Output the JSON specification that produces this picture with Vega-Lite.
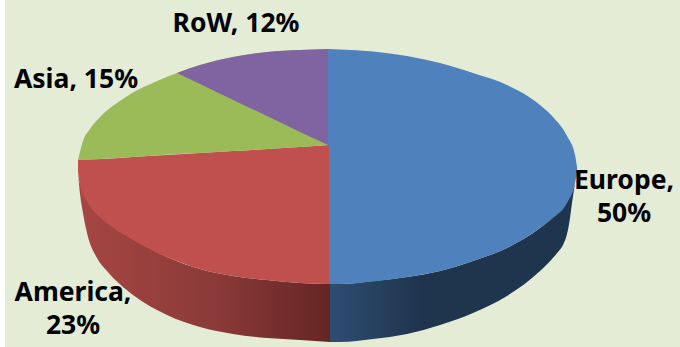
{
  "$schema": "https://vega.github.io/schema/vega-lite/v6.json",
  "width": 675,
  "height": 347,
  "padding": {"left": 5, "top": 0, "right": 0, "bottom": 0},
  "autosize": "none",
  "background": "#ffffff",
  "view": {"fill": "#E4ECD6", "stroke": null},
  "datasets": {
    "rim": [
      {"slice": "America", "x": 78, "top": 172, "bottom": 172},
      {"slice": "America", "x": 79, "top": 180, "bottom": 184},
      {"slice": "America", "x": 83, "top": 190, "bottom": 213},
      {"slice": "America", "x": 87, "top": 198, "bottom": 233},
      {"slice": "America", "x": 97, "top": 212, "bottom": 258},
      {"slice": "America", "x": 107, "top": 222, "bottom": 271},
      {"slice": "America", "x": 133, "top": 239, "bottom": 295},
      {"slice": "America", "x": 167, "top": 257, "bottom": 315},
      {"slice": "America", "x": 200, "top": 269, "bottom": 327},
      {"slice": "America", "x": 233, "top": 276, "bottom": 334},
      {"slice": "America", "x": 267, "top": 280, "bottom": 338},
      {"slice": "America", "x": 300, "top": 283, "bottom": 340},
      {"slice": "America", "x": 330, "top": 284, "bottom": 342},
      {"slice": "Europe", "x": 330, "top": 284, "bottom": 342},
      {"slice": "Europe", "x": 340, "top": 284, "bottom": 342},
      {"slice": "Europe", "x": 373, "top": 281, "bottom": 339},
      {"slice": "Europe", "x": 407, "top": 277, "bottom": 334},
      {"slice": "Europe", "x": 440, "top": 271, "bottom": 325},
      {"slice": "Europe", "x": 473, "top": 261, "bottom": 313},
      {"slice": "Europe", "x": 507, "top": 248, "bottom": 296},
      {"slice": "Europe", "x": 540, "top": 228, "bottom": 271},
      {"slice": "Europe", "x": 552, "top": 218, "bottom": 259},
      {"slice": "Europe", "x": 558, "top": 212, "bottom": 252},
      {"slice": "Europe", "x": 563, "top": 207, "bottom": 245},
      {"slice": "Europe", "x": 567, "top": 202, "bottom": 234},
      {"slice": "Europe", "x": 570, "top": 196, "bottom": 218},
      {"slice": "Europe", "x": 572, "top": 192, "bottom": 203},
      {"slice": "Europe", "x": 575, "top": 183, "bottom": 183}
    ],
    "faces": [
      {"slice": "Europe", "share": 50, "x": 328, "top": 49, "bottom": 284},
      {"slice": "Europe", "share": 50, "x": 340, "top": 49.5, "bottom": 284},
      {"slice": "Europe", "share": 50, "x": 373, "top": 51.5, "bottom": 281.5},
      {"slice": "Europe", "share": 50, "x": 407, "top": 56, "bottom": 277},
      {"slice": "Europe", "share": 50, "x": 440, "top": 63, "bottom": 271},
      {"slice": "Europe", "share": 50, "x": 473, "top": 73, "bottom": 261},
      {"slice": "Europe", "share": 50, "x": 507, "top": 85, "bottom": 248},
      {"slice": "Europe", "share": 50, "x": 540, "top": 105, "bottom": 228},
      {"slice": "Europe", "share": 50, "x": 553, "top": 117, "bottom": 218},
      {"slice": "Europe", "share": 50, "x": 567, "top": 136, "bottom": 203},
      {"slice": "Europe", "share": 50, "x": 575, "top": 155, "bottom": 183},
      {"slice": "Europe", "share": 50, "x": 577, "top": 167, "bottom": 172},
      {"slice": "America", "share": 23, "x": 78, "top": 160, "bottom": 172},
      {"slice": "America", "share": 23, "x": 80, "top": 160, "bottom": 185},
      {"slice": "America", "share": 23, "x": 88, "top": 159.5, "bottom": 203},
      {"slice": "America", "share": 23, "x": 103, "top": 159, "bottom": 220},
      {"slice": "America", "share": 23, "x": 120, "top": 158, "bottom": 232},
      {"slice": "America", "share": 23, "x": 140, "top": 156.5, "bottom": 244},
      {"slice": "America", "share": 23, "x": 167, "top": 155, "bottom": 257},
      {"slice": "America", "share": 23, "x": 200, "top": 153, "bottom": 269},
      {"slice": "America", "share": 23, "x": 233, "top": 151, "bottom": 276},
      {"slice": "America", "share": 23, "x": 267, "top": 149, "bottom": 280},
      {"slice": "America", "share": 23, "x": 300, "top": 147, "bottom": 283},
      {"slice": "America", "share": 23, "x": 329, "top": 145, "bottom": 284},
      {"slice": "Asia", "share": 15, "x": 78, "top": 160, "bottom": 160},
      {"slice": "Asia", "share": 15, "x": 83, "top": 141, "bottom": 160},
      {"slice": "Asia", "share": 15, "x": 90, "top": 129, "bottom": 159.5},
      {"slice": "Asia", "share": 15, "x": 100, "top": 117, "bottom": 159},
      {"slice": "Asia", "share": 15, "x": 117, "top": 103, "bottom": 158},
      {"slice": "Asia", "share": 15, "x": 133, "top": 92.5, "bottom": 157},
      {"slice": "Asia", "share": 15, "x": 155, "top": 82, "bottom": 155.5},
      {"slice": "Asia", "share": 15, "x": 177, "top": 73, "bottom": 154},
      {"slice": "Asia", "share": 15, "x": 200, "top": 65, "bottom": 153},
      {"slice": "Asia", "share": 15, "x": 233, "top": 57, "bottom": 151},
      {"slice": "Asia", "share": 15, "x": 267, "top": 52, "bottom": 149},
      {"slice": "Asia", "share": 15, "x": 300, "top": 50, "bottom": 147},
      {"slice": "Asia", "share": 15, "x": 328, "top": 49, "bottom": 145},
      {"slice": "RoW", "share": 12, "x": 177, "top": 73, "bottom": 73},
      {"slice": "RoW", "share": 12, "x": 200, "top": 65, "bottom": 84},
      {"slice": "RoW", "share": 12, "x": 233, "top": 57, "bottom": 100},
      {"slice": "RoW", "share": 12, "x": 267, "top": 52, "bottom": 116},
      {"slice": "RoW", "share": 12, "x": 300, "top": 50, "bottom": 132},
      {"slice": "RoW", "share": 12, "x": 328, "top": 49, "bottom": 145}
    ],
    "labels": [
      {"label": "Europe,\n50%", "x": 624, "y": 189},
      {"label": "America,\n23%", "x": 73, "y": 301},
      {"label": "Asia, 15%", "x": 76, "y": 88},
      {"label": "RoW, 12%", "x": 236, "y": 32}
    ]
  },
  "encoding": {
    "x": {"field": "x", "type": "quantitative", "axis": null, "scale": {"domain": [5, 680], "nice": false, "zero": false}},
    "y": {"field": "top", "type": "quantitative", "axis": null, "scale": {"domain": [347, 0], "nice": false, "zero": false}},
    "y2": {"field": "bottom"}
  },
  "layer": [
    {
      "data": {"name": "rim"},
      "transform": [{"filter": "datum.slice === 'America'"}],
      "mark": {
        "type": "area",
        "interpolate": "monotone",
        "color": {
          "gradient": "linear", "x1": 0, "x2": 1, "y1": 0, "y2": 0,
          "stops": [
            {"offset": 0, "color": "#A64643"},
            {"offset": 0.55, "color": "#8A3A38"},
            {"offset": 1, "color": "#652524"}
          ]
        }
      }
    },
    {
      "data": {"name": "rim"},
      "transform": [{"filter": "datum.slice === 'Europe'"}],
      "mark": {
        "type": "area",
        "interpolate": "monotone",
        "color": {
          "gradient": "linear", "x1": 0, "x2": 1, "y1": 0, "y2": 0,
          "stops": [
            {"offset": 0, "color": "#2E4D72"},
            {"offset": 0.38, "color": "#1F344D"},
            {"offset": 1, "color": "#1F344D"}
          ]
        }
      }
    },
    {
      "data": {"name": "faces"},
      "mark": {"type": "area", "interpolate": "monotone"},
      "encoding": {
        "color": {
          "field": "slice",
          "type": "nominal",
          "legend": null,
          "scale": {"domain": ["Europe", "America", "Asia", "RoW"], "range": ["#4F81BD", "#C0504D", "#9BBB59", "#8064A2"]}
        }
      }
    },
    {
      "data": {"name": "labels"},
      "mark": {
        "type": "text",
        "font": "Noto Sans",
        "fontWeight": "bold",
        "fontSize": 26.5,
        "align": "center",
        "baseline": "alphabetic",
        "lineBreak": "\n",
        "lineHeight": 33,
        "color": "#000000"
      },
      "encoding": {
        "y": {"field": "y", "type": "quantitative", "axis": null, "scale": {"domain": [347, 0], "nice": false, "zero": false}},
        "y2": null,
        "text": {"field": "label", "type": "nominal"}
      }
    }
  ]
}
